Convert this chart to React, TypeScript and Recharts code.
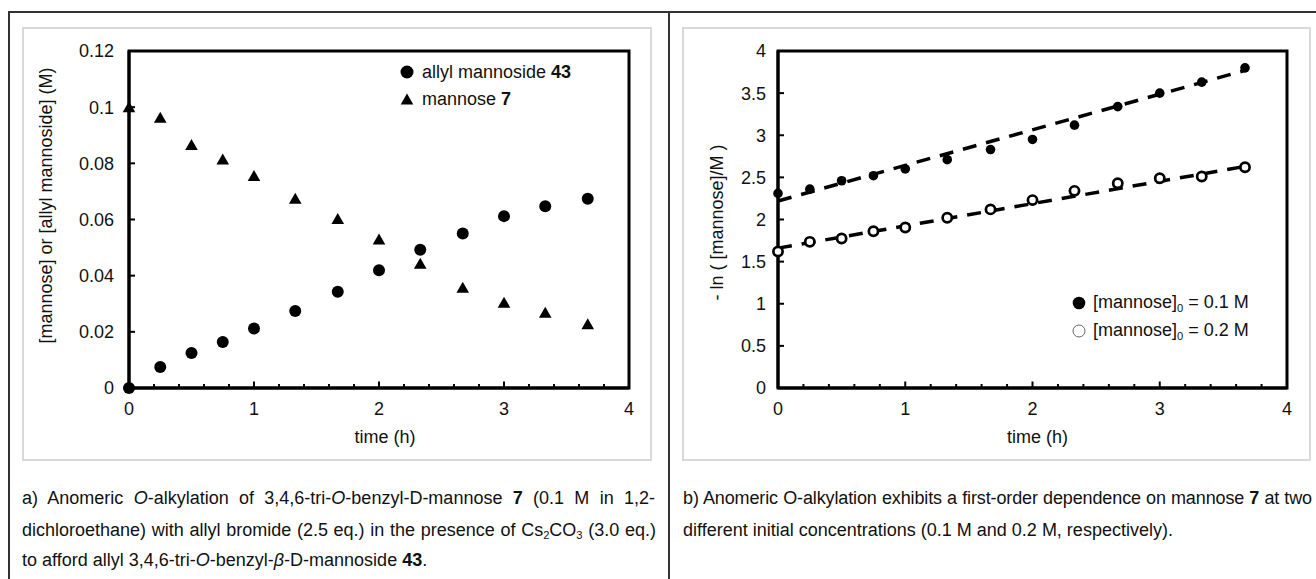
import React from 'react';
import {
  ComposedChart,
  Scatter,
  Line,
  XAxis,
  YAxis,
  ReferenceArea,
  Legend,
  Label,
} from 'recharts';

// ---------------- data ----------------
const times = [0, 0.25, 0.5, 0.75, 1, 1.33, 1.67, 2, 2.33, 2.67, 3, 3.33, 3.67];
const allylMannoside43 = [0, 0.0075, 0.0125, 0.0164, 0.0212, 0.0274, 0.0343, 0.0419, 0.0492, 0.0550, 0.0612, 0.0647, 0.0674];
const mannose7 = [0.1, 0.0962, 0.0865, 0.0814, 0.0755, 0.0674, 0.0602, 0.0529, 0.0442, 0.0357, 0.0304, 0.0268, 0.0227];
const lnMannose01 = [2.31, 2.36, 2.46, 2.52, 2.6, 2.71, 2.83, 2.95, 3.12, 3.34, 3.5, 3.63, 3.8];
const lnMannose02 = [1.62, 1.735, 1.775, 1.86, 1.905, 2.02, 2.12, 2.23, 2.34, 2.43, 2.49, 2.51, 2.62];
const trendTimes = [0, 3.67];
const trend01 = [2.22, 3.77];
const trend02 = [1.66, 2.63];
const xTicks = [0, 0.2, 0.4, 0.6, 0.8, 1, 1.2, 1.4, 1.6, 1.8, 2, 2.2, 2.4, 2.6, 2.8, 3, 3.2, 3.4, 3.6, 3.8, 4];
const yTicksA = [0, 0.02, 0.04, 0.06, 0.08, 0.1, 0.12];
const yTicksB = [0, 0.5, 1, 1.5, 2, 2.5, 3, 3.5, 4];

const zip = (xs: number[], ys: number[]) => xs.map((t, i) => ({ t, v: ys[i] }));
const dataAllyl = zip(times, allylMannoside43);
const dataMannose = zip(times, mannose7);
const data01 = zip(times, lnMannose01);
const data02 = zip(times, lnMannose02);
const dataTrend01 = zip(trendTimes, trend01);
const dataTrend02 = zip(trendTimes, trend02);

// ---------------- styles ----------------
const FONT = '"Liberation Sans", Arial, Helvetica, sans-serif';
const TEXT = '#111';
const FS = 18;
const AXIS_W = 3;

// ---------------- ticks ----------------
const makeYTick = (margin: number) => (props: any) => {
  const { x, y, payload } = props;
  const ax = x + margin;
  return (
    <g>
      <line x1={ax} x2={ax + 6} y1={y} y2={y} stroke="#000" strokeWidth={2} />
      <text x={x} y={y} dy="0.36em" textAnchor="end" fontSize={FS} fontFamily={FONT} fill={TEXT}>
        {String(payload.value)}
      </text>
    </g>
  );
};

const makeXTick = (margin: number) => (props: any) => {
  const { x, y, payload } = props;
  const v = payload.value as number;
  const major = Math.abs(v - Math.round(v)) < 1e-6;
  const ay = y - margin;
  return (
    <g>
      <line x1={x} x2={x} y1={ay} y2={ay - (major ? 6.5 : 4)} stroke="#000" strokeWidth={2} />
      {major && (
        <text x={x} y={y} dy="0.71em" textAnchor="middle" fontSize={FS} fontFamily={FONT} fill={TEXT}>
          {String(Math.round(v))}
        </text>
      )}
    </g>
  );
};

// ---------------- marker shapes ----------------
const BigDot = (p: any) => <circle cx={p.cx} cy={p.cy} r={6} fill="#000" />;
const SmallDot = (p: any) => <circle cx={p.cx} cy={p.cy} r={4.8} fill="#000" />;
const OpenDot = (p: any) => (
  <circle cx={p.cx} cy={p.cy} r={4.6} fill="#fff" stroke="#000" strokeWidth={2.7} />
);
const Tri = (p: any) => (
  <path
    d={`M${p.cx},${p.cy - 6} L${p.cx + 6.3},${p.cy + 5} L${p.cx - 6.3},${p.cy + 5} Z`}
    fill="#000"
  />
);

// ---------------- legends ----------------
const rowStyle: React.CSSProperties = { display: 'flex', alignItems: 'center', whiteSpace: 'nowrap' };
const LegendA = () => (
  <div style={{ fontFamily: FONT, fontSize: FS, color: TEXT }}>
    <div style={{ ...rowStyle, height: 27 }}>
      <svg width={14} height={14}>
        <circle cx={7} cy={7} r={6.5} fill="#000" />
      </svg>
      <span style={{ marginLeft: 8 }}>
        allyl mannoside <b>43</b>
      </span>
    </div>
    <div style={{ ...rowStyle, height: 27 }}>
      <svg width={14} height={14}>
        <path d="M7,1.5 L13.3,12.5 L0.7,12.5 Z" fill="#000" />
      </svg>
      <span style={{ marginLeft: 8 }}>
        mannose <b>7</b>
      </span>
    </div>
  </div>
);

const subStyle: React.CSSProperties = { fontSize: '0.62em', position: 'relative', top: '0.35em', lineHeight: 0 };
const LegendB = () => (
  <div style={{ fontFamily: FONT, fontSize: FS, color: TEXT }}>
    <div style={{ ...rowStyle, height: 28 }}>
      <svg width={14} height={14}>
        <circle cx={7} cy={7} r={6.3} fill="#000" />
      </svg>
      <span style={{ marginLeft: 7 }}>
        [mannose]<span style={subStyle}>0</span> = 0.1 M
      </span>
    </div>
    <div style={{ ...rowStyle, height: 28 }}>
      <svg width={14} height={14}>
        <circle cx={7} cy={7} r={6} fill="#fff" stroke="#666" strokeWidth={1} />
      </svg>
      <span style={{ marginLeft: 7 }}>
        [mannose]<span style={subStyle}>0</span> = 0.2 M
      </span>
    </div>
  </div>
);

// ---------------- axis titles ----------------
const yTitle = (text: string, dx: number, dy: number) => (props: any) => {
  const vb = props.viewBox || { x: 0, y: 0, width: 0, height: 0 };
  const cx = vb.x + dx;
  const cy = vb.y + vb.height / 2 + dy;
  return (
    <text
      x={cx}
      y={cy}
      transform={`rotate(-90, ${cx}, ${cy})`}
      textAnchor="middle"
      dy="0.35em"
      fontSize={FS}
      fontFamily={FONT}
      fill={TEXT}
    >
      {text}
    </text>
  );
};

const xTitle = (text: string, dx: number, dy: number) => (props: any) => {
  const vb = props.viewBox || { x: 0, y: 0, width: 0, height: 0 };
  return (
    <text
      x={vb.x + vb.width / 2 + dx}
      y={vb.y + dy}
      textAnchor="middle"
      dy="0.35em"
      fontSize={FS}
      fontFamily={FONT}
      fill={TEXT}
    >
      {text}
    </text>
  );
};

// ---------------- panel A ----------------
const PanelA = () => (
  <ComposedChart width={652} height={470} margin={{ top: 51, right: 23, bottom: 22, left: 69 }}>
    <XAxis
      type="number"
      dataKey="t"
      domain={[0, 4]}
      ticks={xTicks}
      interval={0}
      height={60}
      tickSize={0}
      tickMargin={14}
      tickLine={false}
      axisLine={{ stroke: '#000', strokeWidth: AXIS_W }}
      tick={makeXTick(14)}
    >
      <Label content={xTitle('time (h)', 6, 49)} />
    </XAxis>
    <YAxis
      type="number"
      dataKey="v"
      domain={[0, 0.12]}
      ticks={yTicksA}
      interval={0}
      width={60}
      tickSize={0}
      tickMargin={15}
      tickLine={false}
      axisLine={{ stroke: '#000', strokeWidth: AXIS_W }}
      tick={makeYTick(15)}
    >
      <Label content={yTitle('[mannose] or [allyl mannoside] (M)', -23, -14)} />
    </YAxis>
    <ReferenceArea x1={0} x2={4} y1={0} y2={0.12} fill="none" stroke="#000" strokeWidth={AXIS_W} ifOverflow="visible" />
    <Scatter name="allyl mannoside 43" data={dataAllyl} dataKey="v" shape={BigDot} isAnimationActive={false} />
    <Scatter name="mannose 7" data={dataMannose} dataKey="v" shape={Tri} isAnimationActive={false} />
    <Legend
      layout="vertical"
      align="center"
      verticalAlign="middle"
      wrapperStyle={{ left: 400, top: 58.5, width: 'auto', height: 'auto' }}
      content={() => <LegendA />}
    />
  </ComposedChart>
);

// ---------------- panel B ----------------
const PanelB = () => (
  <ComposedChart width={640} height={470} margin={{ top: 51, right: 22, bottom: 22, left: 49 }}>
    <XAxis
      type="number"
      dataKey="t"
      domain={[0, 4]}
      ticks={xTicks}
      interval={0}
      height={60}
      tickSize={0}
      tickMargin={14}
      tickLine={false}
      axisLine={{ stroke: '#000', strokeWidth: AXIS_W }}
      tick={makeXTick(14)}
    >
      <Label content={xTitle('time (h)', 5, 49)} />
    </XAxis>
    <YAxis
      type="number"
      dataKey="v"
      domain={[0, 4]}
      ticks={yTicksB}
      interval={0}
      width={60}
      tickSize={0}
      tickMargin={12}
      tickLine={false}
      axisLine={{ stroke: '#000', strokeWidth: AXIS_W }}
      tick={makeYTick(12)}
    >
      <Label content={yTitle('- ln ( [mannose]/M )', -1, 3)} />
    </YAxis>
    <ReferenceArea x1={0} x2={4} y1={0} y2={4} fill="none" stroke="#000" strokeWidth={AXIS_W} ifOverflow="visible" />
    <Scatter name="[mannose]0 = 0.1 M" data={data01} dataKey="v" shape={SmallDot} isAnimationActive={false} />
    <Scatter name="[mannose]0 = 0.2 M" data={data02} dataKey="v" shape={OpenDot} isAnimationActive={false} />
    <Line
      data={dataTrend01}
      dataKey="v"
      type="linear"
      stroke="#000"
      strokeWidth={3.5}
      strokeDasharray="14 10"
      dot={false}
      activeDot={false}
      legendType="none"
      isAnimationActive={false}
    />
    <Line
      data={dataTrend02}
      dataKey="v"
      type="linear"
      stroke="#000"
      strokeWidth={3.5}
      strokeDasharray="14 10"
      dot={false}
      activeDot={false}
      legendType="none"
      isAnimationActive={false}
    />
    <Legend
      layout="vertical"
      align="center"
      verticalAlign="middle"
      wrapperStyle={{ left: 403, top: 288.5, width: 'auto', height: 'auto' }}
      content={() => <LegendB />}
    />
  </ComposedChart>
);

// ---------------- captions ----------------
const capBase: React.CSSProperties = {
  position: 'absolute',
  fontFamily: FONT,
  fontSize: FS,
  lineHeight: '31px',
  height: 31,
  color: TEXT,
};
const capSub: React.CSSProperties = { fontSize: '0.62em', position: 'relative', top: '0.3em', lineHeight: 0 };

export default function App() {
  return (
    <div
      style={{
        position: 'absolute',
        left: 0,
        top: 0,
        width: 1316,
        height: 579,
        background: '#fff',
        overflow: 'hidden',
      }}
    >
      {/* outer frame */}
      <div style={{ position: 'absolute', left: 9, top: 11, width: 1320, height: 1.5, background: '#333' }} />
      <div style={{ position: 'absolute', left: 8, top: 11, width: 1.5, height: 600, background: '#333' }} />
      <div style={{ position: 'absolute', left: 668, top: 11, width: 1.5, height: 600, background: '#333' }} />

      {/* chart area frames */}
      <div style={{ position: 'absolute', left: 22, top: 27, width: 630, height: 434, border: '2px solid #d9d9d9', boxSizing: 'border-box' }} />
      <div style={{ position: 'absolute', left: 682, top: 27, width: 629, height: 434, border: '2px solid #d9d9d9', boxSizing: 'border-box' }} />

      {/* charts */}
      <div style={{ position: 'absolute', left: 0, top: 0, width: 652, height: 470 }}>
        <PanelA />
      </div>
      <div style={{ position: 'absolute', left: 669, top: 0, width: 640, height: 470 }}>
        <PanelB />
      </div>

      {/* caption a */}
      <div style={{ ...capBase, left: 22, top: 482.5, width: 633, textAlign: 'justify', textAlignLast: 'justify' }}>
        a) Anomeric <i>O</i>-alkylation of 3,4,6-tri-<i>O</i>-benzyl-D-mannose <b>7</b> (0.1 M in 1,2-
      </div>
      <div style={{ ...capBase, left: 22, top: 514.5, width: 634, textAlign: 'justify', textAlignLast: 'justify' }}>
        dichloroethane) with allyl bromide (2.5 eq.) in the presence of Cs<span style={capSub}>2</span>CO
        <span style={capSub}>3</span> (3.0 eq.)
      </div>
      <div style={{ ...capBase, left: 22, top: 544.5, width: 634 }}>
        to afford allyl 3,4,6-tri-<i>O</i>-benzyl-<i>β</i>-D-mannoside <b>43</b>.
      </div>

      {/* caption b */}
      <div style={{ ...capBase, left: 683, top: 482.5, width: 629, textAlign: 'justify', textAlignLast: 'justify', letterSpacing: '-0.12px' }}>
        b) Anomeric O-alkylation exhibits a first-order dependence on mannose <b>7</b> at two
      </div>
      <div style={{ ...capBase, left: 683, top: 514.5, width: 629 }}>
        different initial concentrations (0.1 M and 0.2 M, respectively).
      </div>
    </div>
  );
}
